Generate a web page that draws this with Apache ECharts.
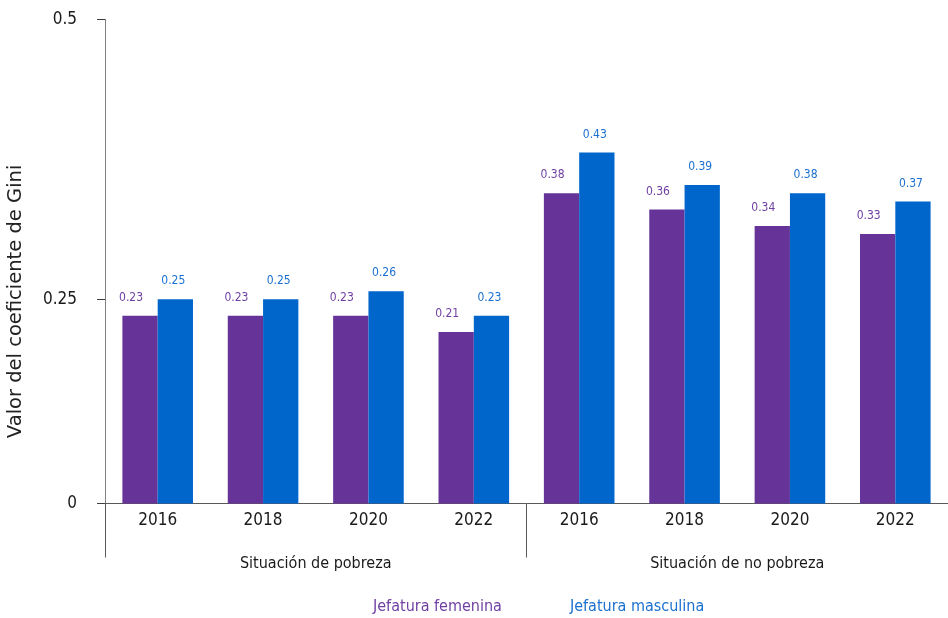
<!DOCTYPE html>
<html>
<head>
<meta charset="utf-8">
<title>Coeficiente de Gini</title>
<script src="https://cdn.jsdelivr.net/npm/echarts@6/dist/echarts.min.js"></script>
<style>
  html, body { margin: 0; padding: 0; background: #fff; }
  #viewChart { width: 948px; height: 618px; }
</style>
</head>
<body>
<div id="viewChart"></div>
<script>
// categorias
var years = ['2016', '2018', '2020', '2022', '2016', '2018', '2020', '2022'];
var groups = ['Situación de pobreza', 'Situación de no pobreza'];

// valores (coeficiente de Gini)
var jefaturaFemenina = [0.23, 0.23, 0.23, 0.21, 0.38, 0.36, 0.34, 0.33];
var jefaturaMasculina = [0.25, 0.25, 0.26, 0.23, 0.43, 0.39, 0.38, 0.37];

// eje y: tal como aparece en la figura
var yMax = 0.593;
var yTickValues = [0, 0.25, 0.593];
var yTickLabels = ['0', '0.25', '0.5'];

var narrow = "'Liberation Sans Narrow', 'DejaVu Sans Condensed', sans-serif";

var chartDom = document.getElementById('viewChart');
var myChart = echarts.init(chartDom);

var option = {
    animation: false,
    grid: {
        left: 105,
        right: 0,
        top: 19.3,
        bottom: 114.5,
        outerBoundsMode: 'none'
    },
    legend: {
        left: 368,
        top: 599,
        padding: 0,
        itemWidth: 0,
        itemHeight: 0,
        itemGap: 63,
        textStyle: { fontFamily: narrow, fontSize: 16 },
        data: [
            { name: 'Jefatura femenina', textStyle: { color: '#6f3fa3' } },
            { name: 'Jefatura masculina', textStyle: { color: '#1a70d0' } }
        ]
    },
    xAxis: [
        {
            type: 'category',
            data: years,
            axisLine: { lineStyle: { color: '#595959', width: 1 } },
            axisTick: { length: 27, lineStyle: { color: '#404040' } },
            axisLabel: { margin: 9, fontFamily: narrow, fontSize: 17, color: '#1a1a1a' }
        },
        {
            type: 'category',
            position: 'bottom',
            data: groups,
            axisLine: { show: false },
            axisTick: { show: true, length: 54, lineStyle: { color: '#595959' } },
            axisLabel: { margin: 52, fontFamily: narrow, fontSize: 16, color: '#1a1a1a' }
        }
    ],
    yAxis: {
        type: 'value',
        min: 0,
        max: yMax,
        name: 'Valor del coeficiente de Gini',
        nameLocation: 'middle',
        nameRotate: 90,
        nameGap: 79,
        nameTextStyle: {
            fontFamily: "'DejaVu Sans', sans-serif",
            fontSize: 19.5,
            color: '#222',
            padding: [0, 80, 0, 0]
        },
        splitLine: { show: false },
        axisLine: { show: true, lineStyle: { color: '#7f7f7f' } },
        axisTick: {
            show: true,
            length: 8,
            customValues: yTickValues,
            lineStyle: { color: '#404040' }
        },
        axisLabel: {
            margin: 28,
            fontFamily: narrow,
            fontSize: 17,
            color: '#1a1a1a',
            customValues: yTickValues,
            formatter: function (v) {
                for (var i = 0; i < yTickValues.length; i++) {
                    if (Math.abs(yTickValues[i] - v) < 1e-6) return yTickLabels[i];
                }
                return '';
            }
        }
    },
    series: [
        {
            name: 'Jefatura femenina',
            type: 'bar',
            xAxisIndex: 0,
            data: jefaturaFemenina,
            barGap: '0%',
            barCategoryGap: '33%',
            itemStyle: { color: '#663399' },
            emphasis: { disabled: true },
            label: {
                show: true,
                position: 'top',
                distance: 12,
                offset: [-9, 0],
                fontFamily: narrow,
                fontSize: 12,
                color: '#6f3fa3'
            }
        },
        {
            name: 'Jefatura masculina',
            type: 'bar',
            xAxisIndex: 0,
            data: jefaturaMasculina,
            barGap: '0%',
            barCategoryGap: '33%',
            itemStyle: { color: '#0066cc' },
            emphasis: { disabled: true },
            label: {
                show: true,
                position: 'top',
                distance: 12,
                offset: [-2, 0],
                fontFamily: narrow,
                fontSize: 12,
                color: '#1a70d0'
            }
        }
    ]
};

myChart.setOption(option);
</script>
</body>
</html>
